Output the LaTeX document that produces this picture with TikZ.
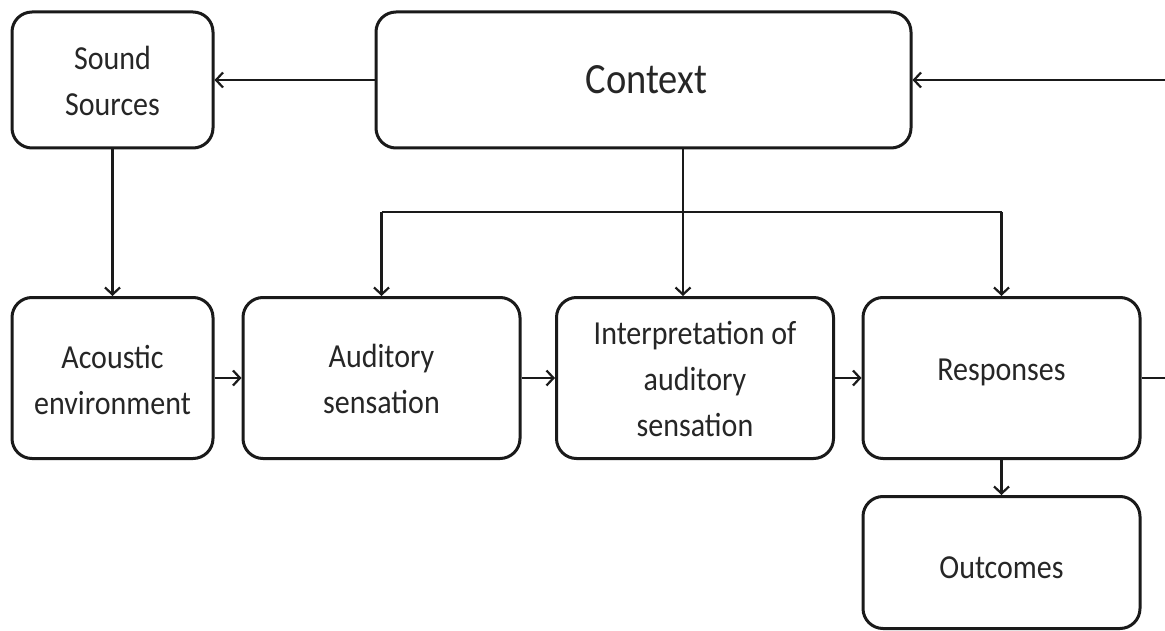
\documentclass[tikz,border=0pt]{standalone}
\usepackage{fontspec}
\usepackage{graphicx}
\setmainfont{Carlito}
\usetikzlibrary{arrows.meta,calc}
\definecolor{txt}{HTML}{262626}
\definecolor{ln}{HTML}{1A1A1A}
\newcommand{\tx}[2][-3pt]{\raisebox{#1}[\height][\depth]{\scalebox{1}[1.12]{\begin{tabular}{@{}c@{}}#2\end{tabular}}}}
\begin{document}
\begin{tikzpicture}[x=1pt,y=-1pt,
  box/.style={draw=ln, line width=3pt, rounded corners=20pt, align=center, inner sep=0pt,
    text=txt, font=\fontsize{30}{41}\selectfont},
  conn/.style={draw=ln, line width=2.2pt},
  arr/.style={conn, -{Straight Barb[length=7pt,width=15pt,line width=2.2pt]}}]
\useasboundingbox (0,0) rectangle (1165,631);
\fill[white] (0,0) rectangle (1165,631);
\node[box, minimum width=201pt, minimum height=136pt] (sound) at (112.5,80) {\tx{Sound\\Sources}};
\node[box, minimum width=535pt, minimum height=136pt, font=\fontsize{38.5}{46}\selectfont] (context) at (643.5,80) {\hspace*{6pt}\tx{Context}};
\node[box, minimum width=201pt, minimum height=161pt] (acoustic) at (112.5,378) {\tx[-4pt]{Acoustic\\environment}};
\node[box, minimum width=277pt, minimum height=161pt] (auditory) at (381.5,378) {\tx{Auditory\\sensation}};
\node[box, minimum width=277pt, minimum height=161pt] (interp) at (695,378) {\tx{Interpretation of\\auditory\\sensation}};
\node[box, minimum width=277pt, minimum height=161pt] (resp) at (1001.5,378) {\tx[7pt]{Responses}};
\node[box, minimum width=277pt, minimum height=132pt] (out) at (1001.5,562.5) {\tx[-7pt]{Outcomes}};
\coordinate (rin) at (1165,80);
\coordinate (rout) at (1165,378);
\coordinate (cx) at (683,212);
\coordinate (busl) at (auditory.north |- cx);
\coordinate (busr) at (resp.north |- cx);
\draw[arr] (context.west) -- (sound.east);
\draw[arr] (rin) -- (context.east);
\draw[arr] (sound.south) -- (acoustic.north);
\draw[arr] (acoustic.east) -- (auditory.west);
\draw[arr] (auditory.east) -- (interp.west);
\draw[arr] (interp.east) -- (resp.west);
\draw[conn] (resp.east) -- (rout);
\draw[arr] (cx |- context.south) -- (cx |- interp.north);
\draw[conn] (busl) -- (busr);
\draw[arr] (busl) -- (auditory.north);
\draw[arr] (busr) -- (resp.north);
\draw[arr] (resp.south) -- (out.north);
\end{tikzpicture}
\end{document}
